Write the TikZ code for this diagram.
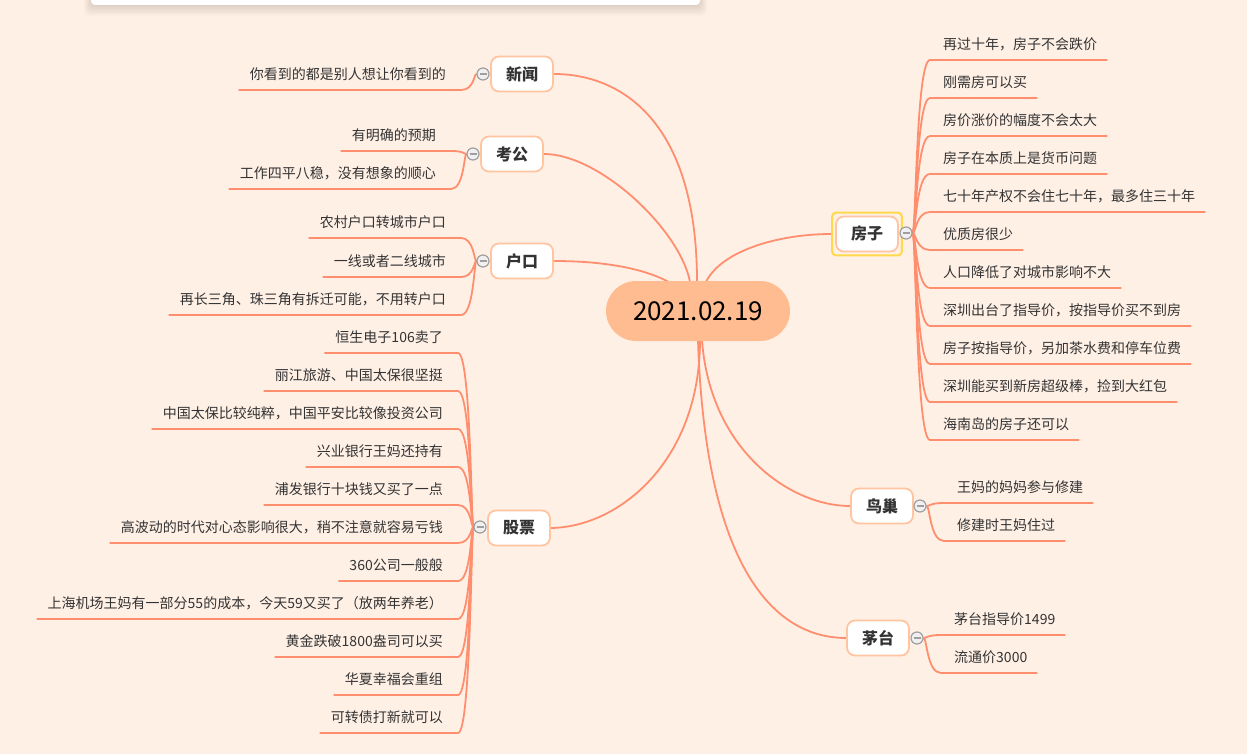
\documentclass[tikz,border=0pt]{standalone}
\usepackage{fontspec}
\setmainfont{Noto Sans CJK SC}
\usetikzlibrary{calc,fit}
\definecolor{bgc}{HTML}{FFF0E6}
\definecolor{linkc}{HTML}{FF8E6E}
\definecolor{nodeb}{HTML}{FFC4A0}
\definecolor{ctrfill}{HTML}{FFBC90}
\definecolor{hilite}{HTML}{FFD94A}
\definecolor{txt}{HTML}{333333}
\pgfdeclarelayer{bgfill}
\pgfdeclarelayer{bg}
\pgfsetlayers{bgfill,bg,main}
\begin{document}
\begin{tikzpicture}[x=1pt,y=-1pt,
  link/.style={draw=linkc,line width=1.8pt},
  ctrnode/.style={fill=ctrfill,rounded corners=30pt,minimum width=184pt,minimum height=60pt,inner sep=0pt,font=\fontsize{26}{30}\selectfont,text=black},
  branch/.style={draw=nodeb,line width=1.8pt,fill=white,rounded corners=8pt,minimum width=62pt,minimum height=35pt,inner sep=0pt,font=\fontsize{16}{18}\selectfont\bfseries,text=txt},
  tog/.style={circle,draw=gray!75,fill=gray!12,line width=1.2pt,minimum size=12pt,inner sep=0pt},
  minus/.style={draw=gray!75,line width=1.4pt},
  leaf/.style={inner sep=0pt,font=\fontsize{14}{16}\selectfont,text=txt}]
\useasboundingbox (0,0) rectangle (1247,754);
\begin{pgfonlayer}{bgfill}
  \fill[bgc] (0,0) rectangle (1247,754);
  \foreach \k in {0,...,7}{\fill[black,opacity=0.014,rounded corners=5pt] (91-\k,-12) rectangle (700+\k,6+\k*1.4);}
  \fill[white,rounded corners=4pt] (91,-12) rectangle (700,5);
\end{pgfonlayer}

% centre and branches
\node[ctrnode] (ctr) at (698,311) {2021.02.19};
\node[branch] (xw) at (522,74) {新闻};
\node[branch] (kg) at (512,154) {考公};
\node[branch] (hk) at (522,261) {户口};
\node[branch] (gp) at (519,528) {股票};
\node[branch] (fz) at (867,234) {房子};
\node[branch] (nc) at (882,506) {鸟巢};
\node[branch] (mt) at (878,638) {茅台};
\node[draw=hilite,line width=2pt,rounded corners=4pt,inner sep=3pt,fit=(fz)] (fzhl) {};

\node[tog] (xwc) at (483,74) {};
\node[tog] (kgc) at (473,154) {};
\node[tog] (hkc) at (483,261) {};
\node[tog] (gpc) at (480,527) {};
\node[tog] (fzc) at (906,233) {};
\node[tog] (ncc) at (920,506) {};
\node[tog] (mtc) at (917,638) {};
\foreach \c in {xwc,kgc,hkc,gpc,fzc,ncc,mtc}{\draw[minus] ($(\c)+(-3.5,0)$) -- ($(\c)+(3.5,0)$);}

\begin{pgfonlayer}{bg}
  \draw[link] ($(ctr.north)+(-1,1)$) .. controls (697,120) and (620,74) .. (xw.east);
  \draw[link] ($(ctr.north)+(-8,1)$) .. controls (680,230) and (600,154) .. (kg.east);
  \draw[link] ($(ctr.north)+(-26,3)$) .. controls (640,265) and (590,261) .. (hk.east);
  \draw[link] ($(ctr.north)+(8,1)$) .. controls (722,250) and (780,234) .. (fzhl.west);
  \draw[link] ($(ctr.south)+(2,-1)$) .. controls (700,460) and (620,527) .. (gp.east);
  \draw[link] ($(ctr.south)+(4,-1)$) .. controls (710,450) and (790,506) .. (nc.west);
  \draw[link] ($(ctr.south)+(0,-1)$) .. controls (705,560) and (770,638) .. (mt.west);
\end{pgfonlayer}

% 房子 leaves
\foreach \i/\uy/\t in {1/60/再过十年，房子不会跌价,2/98/刚需房可以买,3/136/房价涨价的幅度不会太大,4/174/房子在本质上是货币问题,5/212/七十年产权不会住七十年，最多住三十年,6/250/优质房很少,7/288/人口降低了对城市影响不大,8/326/深圳出台了指导价，按指导价买不到房,9/364/房子按指导价，另加茶水费和停车位费,10/402/深圳能买到新房超级棒，捡到大红包,11/440/海南岛的房子还可以}{
  \node[leaf,anchor=west] (fz\i) at (943,\uy-16) {\t};
  \coordinate (fzu\i) at (0,\uy);
  \begin{pgfonlayer}{bg}
    \draw[link] (fzc.east) .. controls (916,233) and (916,\uy) .. (930,\uy) -- (fz\i.east |- fzu\i) -- ++(10,0);
  \end{pgfonlayer}
}
% 鸟巢 leaves
\foreach \i/\uy/\t in {1/503/王妈的妈妈参与修建,2/541/修建时王妈住过}{
  \node[leaf,anchor=west] (nc\i) at (957,\uy-16) {\t};
  \coordinate (ncu\i) at (0,\uy);
  \begin{pgfonlayer}{bg}
    \draw[link] (ncc.east) .. controls (930,506) and (930,\uy) .. (944,\uy) -- (nc\i.east |- ncu\i) -- ++(10,0);
  \end{pgfonlayer}
}
% 茅台 leaves
\foreach \i/\uy/\t in {1/635/茅台指导价1499,2/673/流通价3000}{
  \node[leaf,anchor=west] (mt\i) at (954,\uy-16) {\t};
  \coordinate (mtu\i) at (0,\uy);
  \begin{pgfonlayer}{bg}
    \draw[link] (mtc.east) .. controls (927,638) and (927,\uy) .. (941,\uy) -- (mt\i.east |- mtu\i) -- ++(10,0);
  \end{pgfonlayer}
}
% 新闻 leaves
\foreach \i/\uy/\t in {1/90/你看到的都是别人想让你看到的}{
  \node[leaf,anchor=east] (xw\i) at (446,\uy-16) {\t};
  \coordinate (xwu\i) at (0,\uy);
  \begin{pgfonlayer}{bg}
    \draw[link] (xwc.west) .. controls (474,74) and (474,\uy) .. (461,\uy) -- (xw\i.west |- xwu\i) -- ++(-11,0);
  \end{pgfonlayer}
}
% 考公 leaves
\foreach \i/\uy/\t in {1/151/有明确的预期,2/189/工作四平八稳，没有想象的顺心}{
  \node[leaf,anchor=east] (kg\i) at (436,\uy-16) {\t};
  \coordinate (kgu\i) at (0,\uy);
  \begin{pgfonlayer}{bg}
    \draw[link] (kgc.west) .. controls (464,154) and (464,\uy) .. (451,\uy) -- (kg\i.west |- kgu\i) -- ++(-11,0);
  \end{pgfonlayer}
}
% 户口 leaves
\foreach \i/\uy/\t in {1/238/农村户口转城市户口,2/277/一线或者二线城市,3/315/再长三角、珠三角有拆迁可能，不用转户口}{
  \node[leaf,anchor=east] (hk\i) at (446,\uy-16) {\t};
  \coordinate (hku\i) at (0,\uy);
  \begin{pgfonlayer}{bg}
    \draw[link] (hkc.west) .. controls (474,261) and (474,\uy) .. (461,\uy) -- (hk\i.west |- hku\i) -- ++(-11,0);
  \end{pgfonlayer}
}
% 股票 leaves
\foreach \i/\uy/\t in {1/353/恒生电子106卖了,2/391/丽江旅游、中国太保很坚挺,3/429/中国太保比较纯粹，中国平安比较像投资公司,4/467/兴业银行王妈还持有,5/505/浦发银行十块钱又买了一点,6/543/高波动的时代对心态影响很大，稍不注意就容易亏钱,7/581/360公司一般般,8/619/上海机场王妈有一部分55的成本，今天59又买了（放两年养老）,9/657/黄金跌破1800盎司可以买,10/695/华夏幸福会重组,11/733/可转债打新就可以}{
  \node[leaf,anchor=east] (gp\i) at (443,\uy-16) {\t};
  \coordinate (gpu\i) at (0,\uy);
  \begin{pgfonlayer}{bg}
    \draw[link] (gpc.west) .. controls (471,527) and (471,\uy) .. (458,\uy) -- (gp\i.west |- gpu\i) -- ++(-11,0);
  \end{pgfonlayer}
}
\end{tikzpicture}
\end{document}
